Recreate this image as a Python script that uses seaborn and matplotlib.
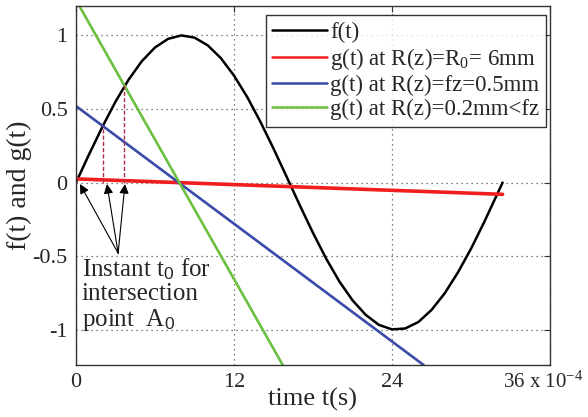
import numpy as np
import pandas as pd
import matplotlib
matplotlib.use("Agg")
import matplotlib.pyplot as plt
import matplotlib.transforms as mtransforms
import seaborn as sns

# f(t): sampled values (time in units of 1e-4 s)
t_f = [0, 1, 2, 3, 4, 5, 6, 7, 8, 9, 10, 11, 12, 13, 14, 15, 16, 17, 18, 19, 20,
       21, 22, 23, 24, 25, 26, 27, 28, 29, 30, 31, 32, 32.4]
f_vals = [0.0, 0.193, 0.378, 0.550, 0.700, 0.825, 0.918, 0.977, 1.000, 0.985, 0.933,
          0.846, 0.727, 0.582, 0.414, 0.231, 0.039, -0.155, -0.342, -0.517, -0.672,
          -0.800, -0.899, -0.967, -0.998, -0.992, -0.948, -0.866, -0.753, -0.612,
          -0.450, -0.269, -0.077, 0.0]

# g(t) straight lines (endpoints)
t_red = [0, 32.4]
g_red = [0.025, -0.08]
t_blue = [0, 26.4]
g_blue = [0.52, -1.24]
t_green = [0, 15.7]
g_green = [1.24, -1.24]

labels = ["f(t)",
          "g(t) at R(z)=R$_0$= 6mm",
          "g(t) at R(z)=fz=0.5mm",
          "g(t) at R(z)=0.2mm<fz"]
colors = ["#000000", "#f01e1e", "#3a4aa8", "#6cc040"]

# intersection instants t0 and the f value there
t0_marks = [2.05, 3.64]
f_at_t0 = [0.385, 0.66]
arrow_tips = [0.3, 2.35, 3.72]

x_ticks = [0, 12, 24, 36]
x_ticklabels = ["0", "12", "24", "36 x 10$^{\\mathregular{-4}}$"]
y_ticks = [-1, -0.5, 0, 0.5, 1]
y_ticklabels = ["-1", "-0.5", "0", "0.5", "1"]

sns.set_theme(style="white")
plt.rcParams["font.family"] = ["Liberation Serif", "DejaVu Serif"]
plt.rcParams["mathtext.fontset"] = "custom"
plt.rcParams["mathtext.rm"] = "Liberation Serif"
plt.rcParams["mathtext.it"] = "Liberation Serif:italic"
plt.rcParams["mathtext.sf"] = "Liberation Sans"

fig = plt.figure(figsize=(5.88, 4.17), dpi=100)
ax = fig.add_axes([76 / 588, 1 - 365 / 417, 474 / 588, 359 / 417])

series = [(t_f, f_vals), (t_red, g_red), (t_blue, g_blue), (t_green, g_green)]
widths = [1.8, 2.6, 1.9, 1.9]
for (tx, ty), lab, col, lw in zip(series, labels, colors, widths):
    df = pd.DataFrame({"t": tx, "v": ty})
    sns.lineplot(data=df, x="t", y="v", ax=ax, color=col, lw=lw, label=lab,
                 estimator=None, sort=False)

# dashed markers at intersection instants
for tx, fy in zip(t0_marks, f_at_t0):
    ax.plot([tx, tx], [0, fy], color="#b0304a", lw=1.0, ls=(0, (3, 1.5)))

ax.set_xlim(0, 36)
ax.set_ylim(-1.24, 1.2)
ax.set_xticks(x_ticks)
ax.set_xticklabels(x_ticklabels)
ax.set_yticks(y_ticks)
ax.set_yticklabels(y_ticklabels)
ax.tick_params(direction="in", length=4, width=0.8, color="#333333",
               top=True, right=True, labelsize=16, pad=6)
ax.grid(True, ls=(0, (1, 3)), color="#555555", lw=0.9)
for s in ax.spines.values():
    s.set_color("#333333")
    s.set_linewidth(1.0)

# keep the scaled last tick label inside the figure, on the same baseline
last = ax.get_xticklabels()[-1]
last.set_fontsize(15)
last.set_transform(last.get_transform() +
                   mtransforms.ScaledTranslation(-7 / 100, 2 / 100, fig.dpi_scale_trans))

ax.set_xlabel("time t(s)", fontsize=19, labelpad=-3)
ax.set_ylabel("f(t) and g(t)", fontsize=20, labelpad=0)

# arrows to the intersection instants
for tip in arrow_tips:
    ax.annotate("", xy=(tip, -0.01), xytext=(3.2, -0.48),
                arrowprops=dict(arrowstyle="-|>", color="black", lw=0.8,
                                mutation_scale=14, shrinkA=0, shrinkB=0))

ax.text(0.45, -0.5, "Instant t$_\\mathsf{0}$ for\nintersection\npoint  A$_\\mathsf{0}$",
        fontsize=18, va="top", ha="left", linespacing=1.1)

leg = ax.legend(loc="upper right", bbox_to_anchor=(0.992, 0.975), borderaxespad=0,
                fontsize=16.5, frameon=True, fancybox=False, edgecolor="black",
                handlelength=2.4, handletextpad=0.12, labelspacing=0.12,
                borderpad=0.3)
leg.get_frame().set_linewidth(1.0)
for line in leg.get_lines():
    line.set_linewidth(1.8)

fig.savefig("out.png", dpi=100)
